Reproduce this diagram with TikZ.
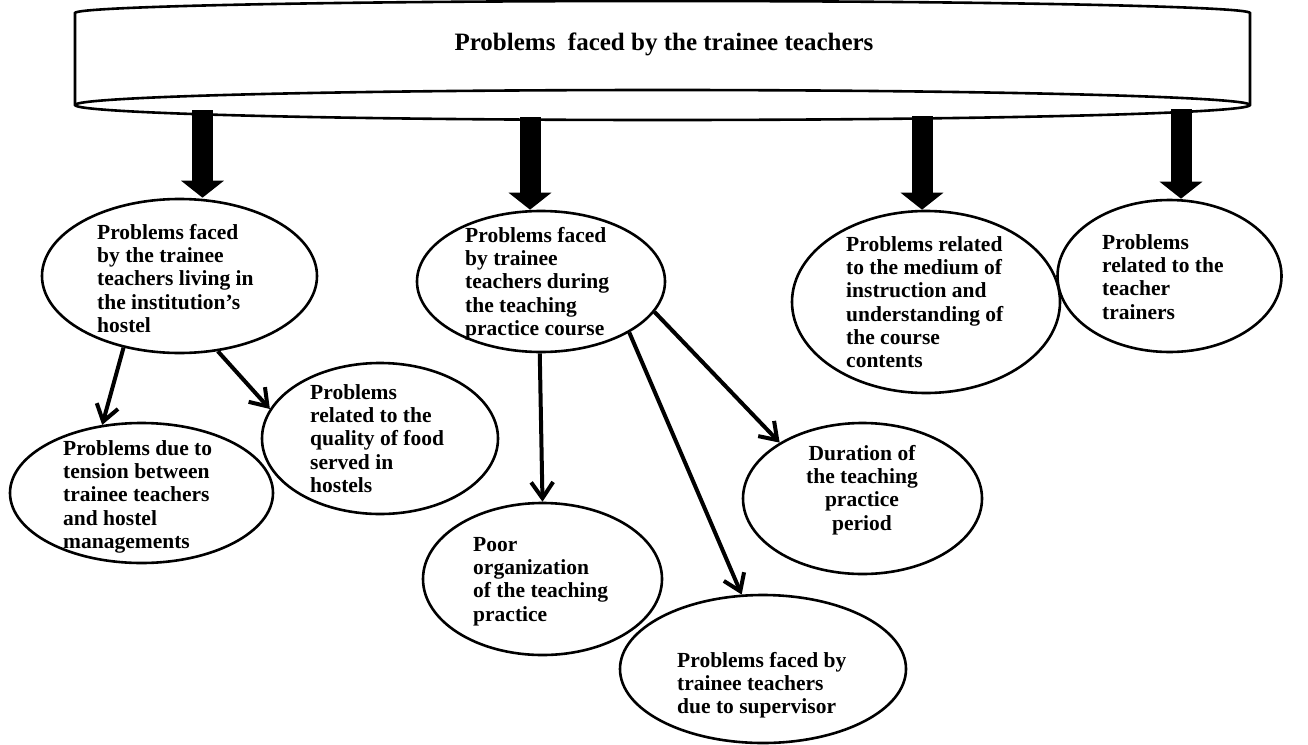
\documentclass[tikz,border=0pt]{standalone}
\usepackage{fontspec}
\setmainfont{Liberation Serif}
\usetikzlibrary{shapes.geometric,arrows.meta}

\begin{document}
\begin{tikzpicture}[x=1pt,y=-1pt,
  bubble/.style={draw, ellipse, line width=2.6pt, inner sep=0pt, fill=white},
  txt/.style={anchor=north west, inner sep=0pt, align=left,
    font=\fontsize{21.5}{23.3}\selectfont\bfseries},
  bigarrow/.style={line width=21pt, line cap=butt,
    -{Triangle[length=17pt,width=42pt]}},
  thinarrow/.style={line width=4pt,
    -{Straight Barb[length=16pt,width=22pt]}}
]
\useasboundingbox (0,0) rectangle (1308,744);

% header banner: curved top edge and an elliptic bottom rim
\draw[line width=2.6pt, fill=white]
  (75,105) -- (75,13) arc[start angle=180, end angle=360, x radius=587.5, y radius=12]
  -- (1250,105) arc[start angle=0, end angle=180, x radius=587.5, y radius=15] -- cycle;
\draw[line width=2.6pt] (75,105) arc[start angle=180, end angle=360, x radius=587.5, y radius=15];
\node[inner sep=0pt, anchor=base, font=\fontsize{25}{28}\selectfont\bfseries]
  (title) at (664,50) {Problems\ \ faced by the trainee teachers};

% start points of the four main arrows on the banner rim
\coordinate (s1) at (202.5,110);
\coordinate (s2) at (530,117);
\coordinate (s3) at (922,116);
\coordinate (s4) at (1181,109);

% first level
\node[bubble, minimum width=275pt, minimum height=154pt] (e1) at (179.5,276) {};
\node[bubble, minimum width=248pt, minimum height=141pt] (e2) at (541,281.5) {};
\node[bubble, minimum width=268pt, minimum height=182pt] (e3) at (926,302) {};
\node[bubble, minimum width=224pt, minimum height=152pt] (e4) at (1169.5,276) {};

% second level
\node[bubble, minimum width=263pt, minimum height=140pt] (e5) at (141.5,493) {};
\node[bubble, minimum width=236pt, minimum height=151pt] (e6) at (380,438.5) {};
\node[bubble, minimum width=239pt, minimum height=152pt] (e7) at (542.5,579) {};
\node[bubble, minimum width=286pt, minimum height=148pt] (e8) at (763,669) {};
\node[bubble, minimum width=239pt, minimum height=151pt] (e9) at (862.5,498.5) {};

% texts
\node[txt] (t1) at (97,224) {Problems faced\\by the trainee\\teachers living in\\the institution’s\\hostel};
\node[txt] (t2) at (465,227) {Problems faced\\by trainee\\teachers during\\the teaching\\practice course};
\node[txt] (t3) at (846,236) {Problems related\\to the medium of\\instruction and\\understanding of\\the course\\contents};
\node[txt] (t4) at (1102,234) {Problems\\related to the\\teacher\\trainers};
\node[txt] (t5) at (63,440) {Problems due to\\tension between\\trainee teachers\\and hostel\\managements};
\node[txt] (t6) at (310,384) {Problems\\related to the\\quality of food\\served in\\hostels};
\node[txt] (t7) at (473,537) {Poor\\organization\\of the teaching\\practice};
\node[txt] (t8) at (677,652) {Problems faced by\\trainee teachers\\due to supervisor};
\node[txt, anchor=north, align=center] (t9) at (862,445) {Duration of\\the teaching\\practice\\period};

% main arrows from the banner
\draw[bigarrow] (s1) -- (s1 |- e1.north);
\draw[bigarrow] (s2) -- (s2 |- e2.north);
\draw[bigarrow] (s3) -- (s3 |- e3.north);
\draw[bigarrow] (s4) -- (s4 |- e4.north);

% sub-topic arrows
\draw[thinarrow] (e1.-128.6) -- (e5.120.8);
\draw[thinarrow] (e1.-63.4) -- (e6.165.5);
\draw[thinarrow] (e2.-91.5) -- (e7.90);
\draw[thinarrow] (e2.-30.6) -- (e8.106.6);
\draw[thinarrow] (e2.-15.4) -- (e9.146.5);
\end{tikzpicture}
\end{document}
